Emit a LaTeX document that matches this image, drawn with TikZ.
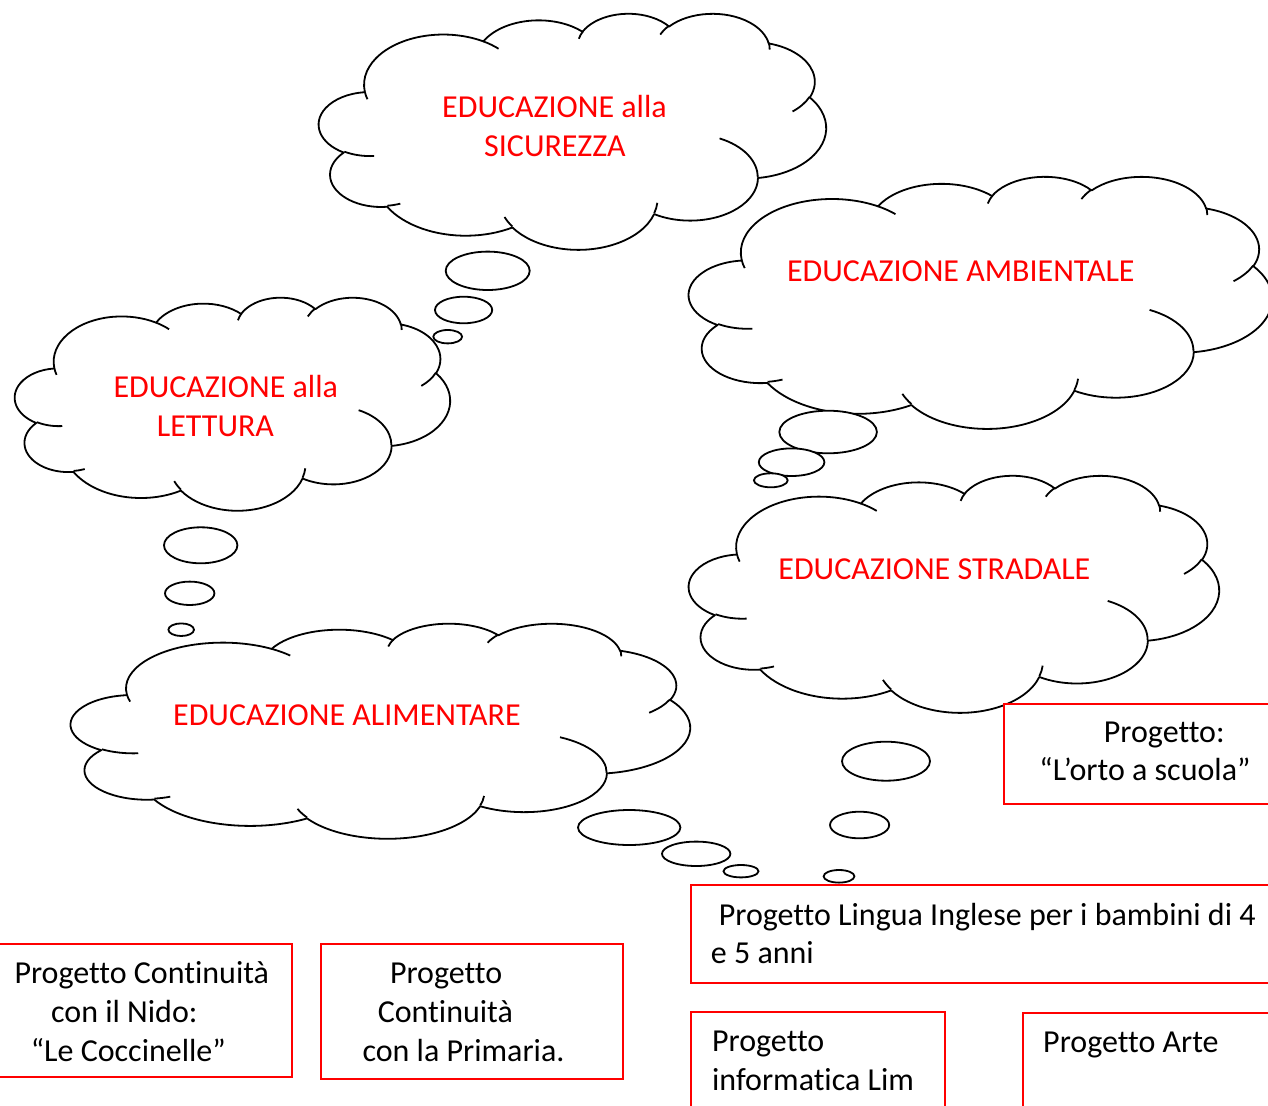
\documentclass[tikz,border=0pt]{standalone}
\usepackage{fontspec}
\setmainfont{Carlito}[Ligatures={NoCommon}]
\definecolor{pured}{RGB}{255,0,0}
\newcommand\ooarcdef[5]{%
  \pgfmathsetmacro\oots{atan2((#2)*sin(#4),(#3)*cos(#4))}%
  \pgfmathsetmacro\oote{atan2((#2)*sin((#4)+(#5)),(#3)*cos((#4)+(#5)))}%
  \pgfmathsetmacro\ood{\oote-\oots}%
  \pgfmathsetmacro\ood{ifthenelse((#5)>0,ifthenelse(\ood<0,\ood+360,\ood),ifthenelse(\ood>0,\ood-360,\ood))}%
  \edef\oodo{\noexpand\tikzset{#1/.style={start angle=\oots,delta angle=\ood,x radius=#2,y radius=#3}}}%
  \oodo}
\ooarcdef{ooA}{67.53}{91.90}{-190.48748}{123.78053}
\ooarcdef{ooB}{53.33}{72.67}{-144.10238}{89.94523}
\ooarcdef{ooC}{43.65}{59.45}{-145.80792}{99.72302}
\ooarcdef{ooD}{48.57}{65.95}{-130.98607}{117.24173}
\ooarcdef{ooE}{53.33}{72.73}{-78.70888}{109.02692}
\ooarcdef{ooF}{67.75}{92.20}{-46.26725}{130.269}
\ooarcdef{ooG}{57.85}{78.67}{0.62502}{114.03333}
\ooarcdef{ooH}{67.52}{92.15}{22.4516}{115.17255}
\ooarcdef{ooI}{77.20}{105.43}{66.24263}{75.71102}
\ooarcdef{ooJ}{43.60}{59.18}{-274.94208}{146.73557}
\ooarcdef{ooK}{43.45}{59.45}{-246.8285}{152.51885}
\ooarcdef{ooTa}{43.45}{59.45}{86.742}{26.4295}
\ooarcdef{ooTb}{43.60}{59.18}{73.61047}{11.44747}
\ooarcdef{ooTc}{67.52}{92.15}{137.62415}{14.0811}
\ooarcdef{ooTd}{67.52}{92.15}{6.45327}{15.99835}
\ooarcdef{ooTe}{57.85}{78.67}{-70.29235}{70.91737}
\ooarcdef{ooTf}{53.33}{72.73}{30.31803}{27.7515}
\ooarcdef{ooTg}{48.57}{65.95}{-13.74433}{14.8589}
\ooarcdef{ooTh}{48.57}{65.95}{-149.18145}{18.19537}
\ooarcdef{ooTi}{43.65}{59.45}{-163.49427}{17.68635}
\ooarcdef{ooTj}{67.53}{91.90}{-66.70695}{12.31935}
\ooarcdef{ooTk}{67.53}{91.90}{-202.36}{11.87}
\tikzset{
  cloudline/.style={line width=1.8pt, draw=black, line join=round},
  bubble/.style={line width=1.8pt, draw=black, fill=white},
  redbox/.style={draw=pured, line width=2pt, fill=white, inner sep=0pt, anchor=north west},
  ctext/.style={text=pured, font=\fontsize{32}{38}\selectfont, inner sep=0pt, anchor=base west},
  btext/.style={text=black, font=\fontsize{32}{38}\selectfont, inner sep=0pt, anchor=base west},
  cloudpic/.pic={
    \draw[cloudline, fill=white] (39.00,143.70) arc[ooA] arc[ooB] arc[ooC] arc[ooD] arc[ooE] arc[ooF] arc[ooG] arc[ooH] arc[ooI] arc[ooJ] arc[ooK] -- cycle;
    \draw[cloudline] (46.93,261.77) arc[ooTa] (69.28,348.99) arc[ooTb] (164.78,390.90) arc[ooTc] (288.27,347.51) arc[ooTd] (341.29,229.54) arc[ooTe] (417.98,153.54) arc[ooTf] (383.24,54.26) arc[ooTg] (290.78,39.52) arc[ooTh] (221.41,47.20) arc[ooTi] (140.00,51.92) arc[ooTj] (41.27,157.89) arc[ooTk];
  }
}
\begin{document}
\begin{tikzpicture}[x=1pt,y=-1pt]
\useasboundingbox (0,0) rectangle (1268,1105);
\clip (0,0) rectangle (1268,1105);
% clouds
\pic[xscale=507/432, yscale=236/432] at (319,13) {cloudpic};
\pic[xscale=583/432, yscale=252/432] at (689,176) {cloudpic};
\pic[xscale=435/432, yscale=213/432] at (15,297) {cloudpic};
\pic[xscale=530/432, yscale=237/432] at (689,475) {cloudpic};
\pic[xscale=619/432, yscale=215/432] at (71,623) {cloudpic};
% bubbles
\draw[bubble] (487.7,270.8) ellipse[x radius=42, y radius=19.2];
\draw[bubble] (463.6,310) ellipse[x radius=28.6, y radius=13.3];
\draw[bubble] (447.7,336.7) ellipse[x radius=14.4, y radius=6.7];
\draw[bubble] (200.7,545.3) ellipse[x radius=36.7, y radius=18];
\draw[bubble] (189.7,593.3) ellipse[x radius=24.7, y radius=11.7];
\draw[bubble] (181.2,629.7) ellipse[x radius=12.8, y radius=6.3];
\draw[bubble] (828.1,432) ellipse[x radius=48.8, y radius=21.3];
\draw[bubble] (791.6,462.2) ellipse[x radius=32.8, y radius=13.8];
\draw[bubble] (770.8,480.3) ellipse[x radius=16.9, y radius=7];
\draw[bubble] (886,761.2) ellipse[x radius=44, y radius=19.5];
\draw[bubble] (859.6,825) ellipse[x radius=29.6, y radius=13.3];
\draw[bubble] (839,876.3) ellipse[x radius=15.4, y radius=6.3];
\draw[bubble] (629.2,827.5) ellipse[x radius=51.2, y radius=17.5];
\draw[bubble] (696.2,853.8) ellipse[x radius=34.2, y radius=12.2];
\draw[bubble] (741,871.2) ellipse[x radius=17.5, y radius=6.2];
% cloud texts
\node[ctext] (s1) at (442,117.7) {EDUCAZIONE alla};
\node[ctext] (s2) at (484,156.7) {SICUREZZA};
\node[ctext] (amb) at (786.9,281.7) {EDUCAZIONE AMBIENTALE};
\node[ctext] (l1) at (113.3,397.3) {EDUCAZIONE alla};
\node[ctext] (l2) at (156.7,436.7) {LETTURA};
\node[ctext] (str) at (778.2,579.3) {EDUCAZIONE STRADALE};
\node[ctext] (ali) at (173,725) {EDUCAZIONE ALIMENTARE};
% boxes
\node[redbox, minimum width=300, minimum height=100.6] (borto) at (1003,702.7) {};
\node[redbox, minimum width=600, minimum height=97.4] (bingl) at (690,884.3) {};
\node[redbox, minimum width=254.3, minimum height=120] (blim) at (690,1010.7) {};
\node[redbox, minimum width=300, minimum height=120] (barte) at (1022,1012.3) {};
\node[redbox, minimum width=300.6, minimum height=133] (bnido) at (-10,942.7) {};
\node[redbox, minimum width=302.4, minimum height=135] (bprim) at (320,942.7) {};
% box texts
\node[btext] (o1) at (1103.7,742.7) {Progetto:};
\node[btext] (o2) at (1039.2,780) {“L’orto a scuola”};
\node[btext] (i1) at (718.6,925) {Progetto Lingua Inglese per i bambini di 4};
\node[btext] (i2) at (710.7,963.3) {e 5 anni};
\node[btext] (m1) at (711.9,1051.7) {Progetto};
\node[btext] (m2) at (711.9,1090) {informatica Lim};
\node[btext] (a1) at (1043,1052.7) {Progetto Arte};
\node[btext] (n1) at (14.3,983.3) {Progetto Continuità};
\node[btext] (n2) at (51,1022.7) {con il Nido:};
\node[btext] (n3) at (30.6,1061) {“Le Coccinelle”};
\node[btext] (p1) at (389.8,983.3) {Progetto};
\node[btext] (p2) at (377.6,1022.7) {Continuità};
\node[btext] (p3) at (362.4,1061) {con la Primaria.};
\end{tikzpicture}
\end{document}
